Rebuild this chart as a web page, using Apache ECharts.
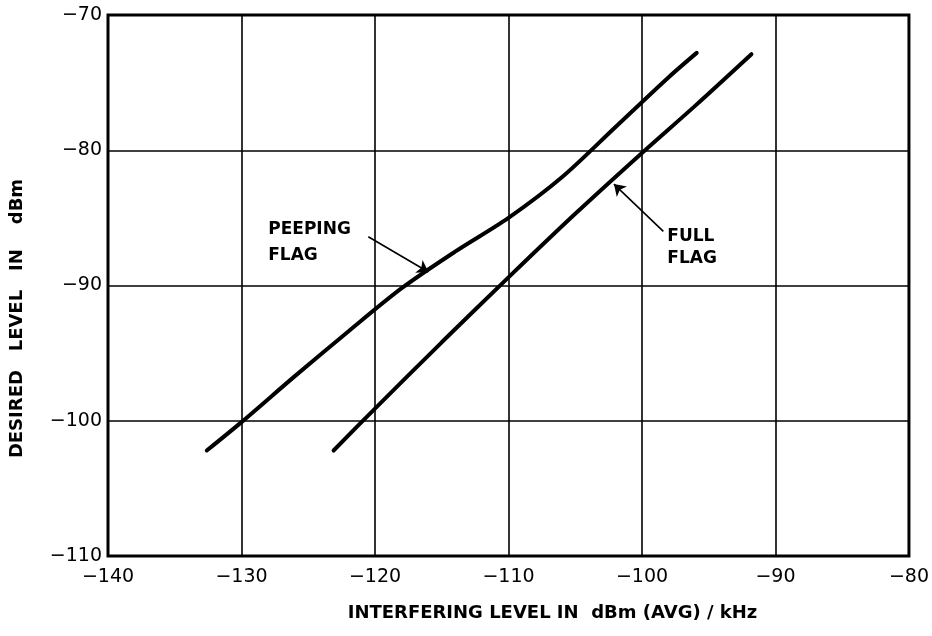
<!DOCTYPE html>
<html>
<head>
<meta charset="utf-8">
<script src="https://cdn.jsdelivr.net/npm/echarts@6/dist/echarts.min.js"></script>
<style>
html,body{margin:0;padding:0;background:#fff;}
#c{width:932px;height:636px;}
</style>
</head>
<body>
<div id="c"></div>
<script>
// ---- data ----
var xTicks = [-140, -130, -120, -110, -100, -90, -80];
var yTicks = [-110, -100, -90, -80, -70];
var peepingX = [-132.6, -130.0, -126.0, -122.0, -118.0, -114.0, -110.0, -106.0, -102.0, -98.0, -95.9];
var peepingY = [-102.2, -100.1, -96.7, -93.4, -90.2, -87.5, -85.0, -82.0, -78.3, -74.6, -72.8];
var fullX = [-123.1, -120.0, -115.0, -110.0, -105.0, -100.0, -96.0, -91.8];
var fullY = [-102.2, -99.1, -94.2, -89.4, -84.7, -80.2, -76.7, -72.9];
var labelPeeping = ['PEEPING', 'FLAG'];
var labelFull = ['FULL', 'FLAG'];
var labelPeepingPos = [[-128.0, -85.9], [-128.0, -87.8]];
var labelFullPos = [[-98.1, -86.4], [-98.1, -88.0]];
var arrowPeeping = [[-120.5, -86.4], [-116.0, -89.0]];
var arrowFull = [[-98.4, -86.0], [-102.1, -82.5]];

function zip(a, b) { return a.map(function (v, i) { return [v, b[i]]; }); }
function fmt(v) { return '\u2212' + Math.abs(v); }

var font = 'DejaVu Sans';
var chart = echarts.init(document.getElementById('c'));
var textSeries = function (texts, pos) {
  return {
    type: 'scatter', symbolSize: 0, silent: true,
    itemStyle: { opacity: 1, color: '#000' },
    data: texts.map(function (t, i) { return { value: pos[i], name: t }; }),
    label: {
      show: true, position: 'right', distance: 0,
      formatter: function (p) { return p.name; },
      fontFamily: font, fontSize: 17, fontWeight: 'bold', color: '#000'
    },
    emphasis: { disabled: true }
  };
};
var arrowLine = function (pts) {
  return {
    symbol: ['none', 'arrow'], symbolSize: 11, silent: true,
    lineStyle: { color: '#000', width: 1.6, type: 'solid' },
    itemStyle: { color: '#000' },
    label: { show: false },
    emphasis: { disabled: true },
    data: [[{ coord: pts[0] }, { coord: pts[1] }]]
  };
};
chart.setOption({
  backgroundColor: '#fff',
  animation: false,
  grid: { left: 107, right: 20, top: 15, bottom: 80, show: true, borderColor: '#000', borderWidth: 3 },
  xAxis: {
    type: 'value', min: -140, max: -80, interval: 10,
    name: 'INTERFERING LEVEL IN  dBm (AVG) / kHz',
    nameLocation: 'middle', nameGap: 48,
    nameTextStyle: { fontFamily: font, fontSize: 18, fontWeight: 'bold', color: '#000', padding: [0, 0, 0, 88] },
    axisLine: { show: false },
    axisTick: { show: false },
    splitLine: { show: true, lineStyle: { color: '#000', width: 1.6 } },
    axisLabel: { formatter: fmt, fontFamily: font, fontSize: 19, color: '#000', margin: 12 }
  },
  yAxis: {
    type: 'value', min: -110, max: -70, interval: 10,
    name: 'DESIRED   LEVEL   IN    dBm',
    nameLocation: 'middle', nameGap: 82,
    nameTextStyle: { fontFamily: font, fontSize: 18, fontWeight: 'bold', color: '#000', padding: [0, 66, 0, 0] },
    axisLine: { show: false },
    axisTick: { show: false },
    splitLine: { show: true, lineStyle: { color: '#000', width: 1.6 } },
    axisLabel: { formatter: fmt, fontFamily: font, fontSize: 19, color: '#000', margin: 6 }
  },
  series: [
    {
      type: 'line', name: 'PEEPING FLAG', data: zip(peepingX, peepingY), smooth: 0.3,
      showSymbol: false, lineStyle: { color: '#000', width: 4, cap: 'round' },
      emphasis: { disabled: true },
      markLine: arrowLine(arrowPeeping)
    },
    {
      type: 'line', name: 'FULL FLAG', data: zip(fullX, fullY), smooth: 0.3,
      showSymbol: false, lineStyle: { color: '#000', width: 4, cap: 'round' },
      emphasis: { disabled: true },
      markLine: arrowLine(arrowFull)
    },
    textSeries(labelPeeping, labelPeepingPos),
    textSeries(labelFull, labelFullPos)
  ]
});
</script>
</body>
</html>
